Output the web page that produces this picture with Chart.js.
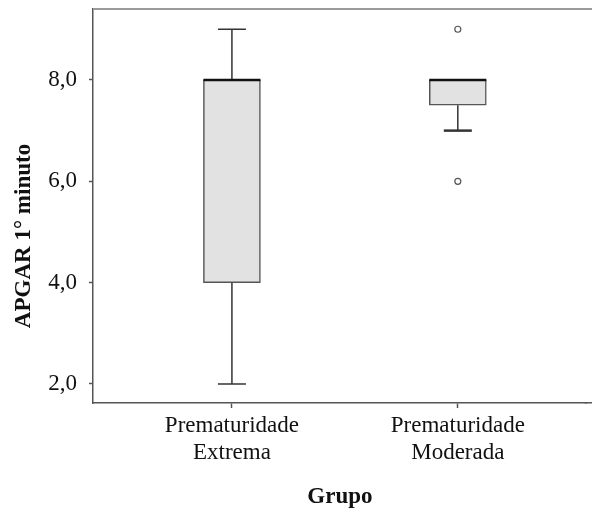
<!DOCTYPE html>
<html>
<head>
<meta charset="utf-8">
<script src="https://cdn.jsdelivr.net/npm/chart.js@4.4.0/dist/chart.umd.min.js"></script>
<style>
  body { margin: 0; background: #fff; }
  canvas { display: block; }
</style>
</head>
<body>
<canvas id="boxChart" width="592" height="511"></canvas>
<script>
// boxplot data
const groups = [["Prematuridade", "Extrema"], ["Prematuridade", "Moderada"]];
const groupPos = [1, 2];
const q1 = [4, 7.5];
const median = [8, 8];
const q3 = [8, 8];
const whiskerLow = [2, 7];
const whiskerHigh = [9, 8];
const outliers = [[], [9, 6]];
const yTicks = [2, 4, 6, 8];
const yTitle = "APGAR 1° minuto";

const serif = '"Liberation Serif", "Times New Roman", serif';

// whiskers, caps, medians, the frame lines and the y title
const boxExtras = {
  id: "boxExtras",
  afterDatasetsDraw(chart) {
    const ctx = chart.ctx;
    const x = chart.scales.x;
    const y = chart.scales.y;
    const area = chart.chartArea;
    ctx.save();
    // top frame line, running to the right edge
    ctx.strokeStyle = "#9a9a9a";
    ctx.lineWidth = 2;
    ctx.beginPath();
    ctx.moveTo(area.left, area.top);
    ctx.lineTo(chart.width, area.top);
    ctx.stroke();
    // bottom axis line carried on to the right edge (same alignment as the border)
    const by = Math.round(x.top - 0.75) + 0.75;
    ctx.strokeStyle = "#555";
    ctx.lineWidth = 1.5;
    ctx.beginPath();
    ctx.moveTo(area.right - 2, by);
    ctx.lineTo(chart.width, by);
    ctx.stroke();

    groupPos.forEach((g, i) => {
      const cx = x.getPixelForValue(g);
      const capHalf = 14;
      const boxHalf = 28.5;
      ctx.strokeStyle = "#333";
      ctx.lineWidth = 1.5;
      // upper whisker
      if (whiskerHigh[i] > q3[i]) {
        ctx.beginPath();
        ctx.moveTo(cx, y.getPixelForValue(q3[i]));
        ctx.lineTo(cx, y.getPixelForValue(whiskerHigh[i]));
        ctx.moveTo(cx - capHalf, y.getPixelForValue(whiskerHigh[i]));
        ctx.lineTo(cx + capHalf, y.getPixelForValue(whiskerHigh[i]));
        ctx.stroke();
      }
      // lower whisker
      if (whiskerLow[i] < q1[i]) {
        ctx.beginPath();
        ctx.moveTo(cx, y.getPixelForValue(q1[i]));
        ctx.lineTo(cx, y.getPixelForValue(whiskerLow[i]));
        ctx.stroke();
        ctx.lineWidth = i === 1 ? 2.5 : 1.5;
        ctx.beginPath();
        ctx.moveTo(cx - capHalf, y.getPixelForValue(whiskerLow[i]));
        ctx.lineTo(cx + capHalf, y.getPixelForValue(whiskerLow[i]));
        ctx.stroke();
      }
      // median
      ctx.strokeStyle = "#111";
      ctx.lineWidth = 2.5;
      ctx.beginPath();
      ctx.moveTo(cx - boxHalf, y.getPixelForValue(median[i]));
      ctx.lineTo(cx + boxHalf, y.getPixelForValue(median[i]));
      ctx.stroke();
    });

    // y axis title, placed a little below the axis centre as in the original
    ctx.translate(24, (area.top + area.bottom) / 2 + 30);
    ctx.rotate(-Math.PI / 2);
    ctx.fillStyle = "#111";
    ctx.font = "bold 23px " + serif;
    ctx.textAlign = "center";
    ctx.textBaseline = "middle";
    ctx.fillText(yTitle, 0, 0);
    ctx.restore();
  }
};

const outlierPoints = [];
outliers.forEach((list, i) => list.forEach(v => outlierPoints.push({ x: groupPos[i], y: v })));

new Chart(document.getElementById("boxChart"), {
  type: "bar",
  data: {
    datasets: [
      {
        data: groupPos.map((g, i) => ({ x: g, y: [q1[i], q3[i]] })),
        backgroundColor: "#e2e2e2",
        borderColor: "#555",
        borderWidth: 1.5,
        borderSkipped: false,
        barThickness: 57
      },
      {
        type: "scatter",
        data: outlierPoints,
        pointStyle: "circle",
        pointRadius: 3,
        pointBorderWidth: 1.2,
        pointBorderColor: "#555",
        pointBackgroundColor: "#fff"
      }
    ]
  },
  options: {
    responsive: false,
    animation: false,
    layout: { padding: { top: 9, right: 0, left: 0, bottom: 0 } },
    plugins: { legend: { display: false }, tooltip: { enabled: false } },
    scales: {
      x: {
        type: "linear",
        offset: false,
        min: 0.385,
        max: 2.571,
        afterBuildTicks: s => { s.ticks = groupPos.map(v => ({ value: v })); },
        afterFit: s => { s.height = 108; s.paddingLeft = 0; s.paddingRight = 0; },
        grid: { offset: false, drawOnChartArea: false, drawTicks: true, tickLength: 5, tickColor: "#555", tickWidth: 1.5 },
        border: { color: "#555", width: 1.5 },
        ticks: {
          autoSkip: false,
          maxRotation: 0,
          padding: 4,
          color: "#111",
          font: { family: serif, size: 23, lineHeight: 1.2 },
          callback: v => groups[groupPos.indexOf(v)]
        },
        title: {
          display: true,
          text: "Grupo",
          color: "#111",
          padding: { top: 0, bottom: 0 },
          font: { family: serif, size: 23, weight: "bold" }
        }
      },
      y: {
        min: 1.625,
        max: 9.4,
        afterBuildTicks: s => { s.ticks = yTicks.map(v => ({ value: v })); },
        afterFit: s => { s.width = 93; s.paddingTop = 0; s.paddingBottom = 0; },
        grid: { drawOnChartArea: false, drawTicks: true, tickLength: 4, tickColor: "#555", tickWidth: 1.5 },
        border: { color: "#555", width: 1.5 },
        ticks: {
          padding: 12,
          color: "#111",
          font: { family: serif, size: 23 },
          callback: v => v.toFixed(1).replace(".", ",")
        }
      }
    }
  },
  plugins: [boxExtras]
});
</script>
</body>
</html>
